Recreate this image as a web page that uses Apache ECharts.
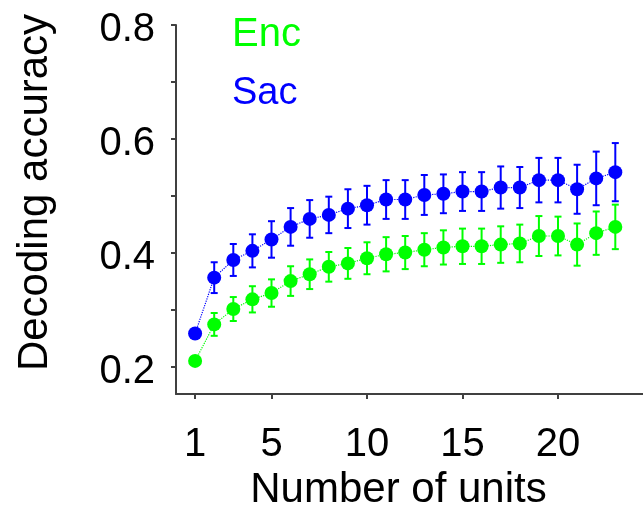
<!DOCTYPE html>
<html>
<head>
<meta charset="utf-8">
<script src="https://cdn.jsdelivr.net/npm/echarts@6/dist/echarts.min.js"></script>
<style>
  html, body { margin: 0; padding: 0; background: #fff; }
  #main { width: 643px; height: 507px; }
</style>
</head>
<body>
<div id="main"></div>
<script>
var units = [1, 2, 3, 4, 5, 6, 7, 8, 9, 10, 11, 12, 13, 14, 15, 16, 17, 18, 19, 20, 21, 22, 23];
var sacMean = [0.259, 0.357, 0.388, 0.404, 0.424, 0.446, 0.460, 0.467, 0.478, 0.484, 0.494, 0.494,
               0.502, 0.504, 0.508, 0.508, 0.515, 0.515, 0.528, 0.528, 0.512, 0.531, 0.542];
var sacErr = [0.006, 0.027, 0.028, 0.029, 0.032, 0.033, 0.033, 0.032, 0.034, 0.034, 0.034, 0.034,
              0.035, 0.034, 0.034, 0.034, 0.037, 0.036, 0.039, 0.039, 0.043, 0.047, 0.051];
var encMean = [0.211, 0.275, 0.302, 0.319, 0.330, 0.351, 0.363, 0.376, 0.382, 0.391, 0.398, 0.401,
               0.406, 0.410, 0.412, 0.412, 0.415, 0.417, 0.430, 0.430, 0.415, 0.435, 0.446];
var encErr = [0.004, 0.020, 0.021, 0.023, 0.024, 0.026, 0.026, 0.026, 0.027, 0.028, 0.030, 0.029,
              0.029, 0.030, 0.031, 0.031, 0.032, 0.033, 0.035, 0.034, 0.037, 0.038, 0.039];
var xTicks = [1, 5, 10, 15, 20];
var yTicks = [0.2, 0.3, 0.4, 0.5, 0.6, 0.7, 0.8];
var yLabels = [0.2, 0.4, 0.6, 0.8];

var font = "'Liberation Sans', Arial, sans-serif";
var green = '#00ff00';
var blue = '#0000ff';

function points(mean) {
    return units.map(function (u, i) { return [u, mean[i]]; });
}
function bars(mean, err) {
    return units.map(function (u, i) { return [u, mean[i] - err[i], mean[i] + err[i]]; });
}
function errorBar(color) {
    return function (params, api) {
        var x = api.value(0);
        var top = api.coord([x, api.value(2)]);
        var bot = api.coord([x, api.value(1)]);
        var w = 3.5;
        var style = { stroke: color, lineWidth: 2 };
        return {
            type: 'group',
            children: [
                { type: 'line', shape: { x1: top[0], y1: top[1], x2: bot[0], y2: bot[1] }, style: style },
                { type: 'line', shape: { x1: top[0] - w, y1: top[1], x2: top[0] + w, y2: top[1] }, style: style },
                { type: 'line', shape: { x1: bot[0] - w, y1: bot[1], x2: bot[0] + w, y2: bot[1] }, style: style }
            ]
        };
    };
}

var myChart = echarts.init(document.getElementById('main'));
var axisColor = '#404040';
var option = {
    animation: false,
    textStyle: { fontFamily: font },
    grid: { left: 176, top: 25, right: 0, bottom: 113, containLabel: false, outerBoundsMode: 'none' },
    legend: {
        orient: 'vertical',
        left: 222,
        top: 10,
        itemGap: 20,
        itemWidth: 0,
        icon: 'none',
        selectedMode: false,
        data: [
            { name: 'Enc', textStyle: { color: green, fontSize: 40 } },
            { name: 'Sac', textStyle: { color: blue, fontSize: 38 } }
        ],
        textStyle: { fontFamily: font }
    },
    xAxis: {
        type: 'value',
        min: 0,
        max: 24.45,
        name: 'Number of units',
        nameLocation: 'middle',
        nameGap: 72,
        nameTextStyle: { fontSize: 42, color: '#000', fontFamily: font, padding: [0, 22, 0, 0] },
        splitLine: { show: false },
        axisLine: { lineStyle: { color: axisColor, width: 2 } },
        axisTick: { customValues: xTicks, length: 5, lineStyle: { color: axisColor, width: 2 } },
        axisLabel: { customValues: xTicks, fontSize: 40, color: '#000', margin: 31, fontFamily: font }
    },
    yAxis: {
        type: 'value',
        min: 0.153,
        max: 0.8,
        name: 'Decoding accuracy',
        nameLocation: 'middle',
        nameGap: 120,
        nameTextStyle: { fontSize: 42, color: '#000', fontFamily: font, padding: [0, 0, 0, 34] },
        splitLine: { show: false },
        axisLine: { show: true, lineStyle: { color: axisColor, width: 2 } },
        axisTick: { show: true, customValues: yTicks, length: 5, lineStyle: { color: axisColor, width: 2 } },
        axisLabel: {
            customValues: yLabels, fontSize: 40, color: '#000', margin: 21, fontFamily: font,
            formatter: function (v) { return '{d|' + v.toFixed(1) + '}'; },
            rich: { d: { fontSize: 40, color: '#000', fontFamily: font, padding: [10, 0, 0, 0] } }
        }
    },
    series: [
        {
            type: 'custom',
            name: 'EncErr',
            renderItem: errorBar(green),
            encode: { x: 0, y: [1, 2] },
            data: bars(encMean, encErr),
            z: 2
        },
        {
            type: 'line',
            name: 'Enc',
            data: points(encMean),
            symbol: 'circle',
            symbolSize: 14,
            itemStyle: { color: green },
            lineStyle: { color: green, width: 1.2, type: 'dotted' },
            z: 3
        },
        {
            type: 'custom',
            name: 'SacErr',
            renderItem: errorBar(blue),
            encode: { x: 0, y: [1, 2] },
            data: bars(sacMean, sacErr),
            z: 4
        },
        {
            type: 'line',
            name: 'Sac',
            data: points(sacMean),
            symbol: 'circle',
            symbolSize: 14,
            itemStyle: { color: blue },
            lineStyle: { color: blue, width: 1.2, type: 'dotted' },
            z: 5
        }
    ]
};
myChart.setOption(option);
</script>
</body>
</html>
